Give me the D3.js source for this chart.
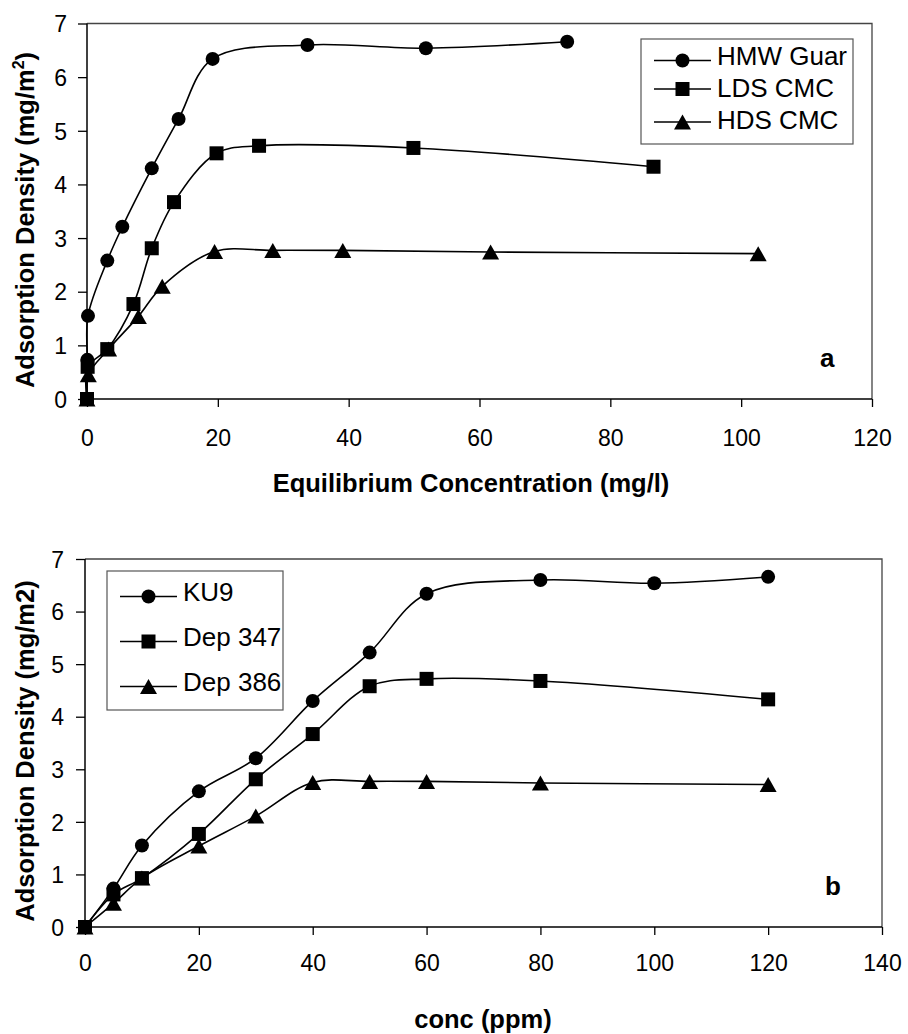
<!DOCTYPE html>
<html>
<head>
<meta charset="utf-8">
<script src="https://cdn.jsdelivr.net/npm/d3@7"></script>
<style>
  html, body { margin: 0; padding: 0; background: #fff; }
  svg { display: block; }
  text { font-family: "Liberation Sans", Arial, sans-serif; fill: #000; }
</style>
</head>
<body>
<svg id="chart" width="908" height="1034"></svg>
<script>
// ---------- DATA ----------
// Panel a: adsorption density vs equilibrium concentration (mg/l)
const guarX = [0, 0.05, 0.15, 3.1, 5.4, 9.9, 14.0, 19.2, 33.7, 51.8, 73.4];
const guarY = [0, 0.73, 1.55, 2.58, 3.21, 4.30, 5.22, 6.34, 6.60, 6.54, 6.66];
const ldsX  = [0, 0.1, 3.1, 7.1, 9.9, 13.3, 19.8, 26.3, 49.9, 86.6];
const ldsY  = [0, 0.60, 0.93, 1.77, 2.81, 3.67, 4.58, 4.72, 4.68, 4.33];
const hdsX  = [0, 0.2, 3.3, 7.85, 11.5, 19.5, 28.4, 39.1, 61.7, 102.6];
const hdsY  = [0, 0.45, 0.93, 1.54, 2.10, 2.75, 2.77, 2.77, 2.74, 2.71];
const seriesNamesA = ["HMW Guar", "LDS CMC", "HDS CMC"];
const xTicksA = [0, 20, 40, 60, 80, 100, 120];

// Panel b: adsorption density vs conc (ppm)
const ku9X    = [0, 5, 10, 20, 30, 40, 50, 60, 80, 100, 120];
const ku9Y    = [0, 0.73, 1.55, 2.58, 3.21, 4.30, 5.22, 6.34, 6.60, 6.54, 6.66];
const dep347X = [0, 5, 10, 20, 30, 40, 50, 60, 80, 120];
const dep347Y = [0, 0.62, 0.93, 1.77, 2.81, 3.67, 4.58, 4.72, 4.68, 4.33];
const dep386X = [0, 5, 10, 20, 30, 40, 50, 60, 80, 120];
const dep386Y = [0, 0.45, 0.93, 1.54, 2.11, 2.75, 2.77, 2.77, 2.74, 2.71];
const seriesNamesB = ["KU9", "Dep 347", "Dep 386"];
const xTicksB = [0, 20, 40, 60, 80, 100, 120, 140];

const yTicks = [0, 1, 2, 3, 4, 5, 6, 7];

// ---------- DRAWING ----------
const svg = d3.select("#chart");
svg.append("rect").attr("width", 908).attr("height", 1034).attr("fill", "#fff");

function marker(g, shape, cx, cy) {
  if (shape === "circle") {
    g.append("circle").attr("cx", cx).attr("cy", cy).attr("r", 7).attr("fill", "#000");
  } else if (shape === "square") {
    g.append("rect").attr("x", cx - 7).attr("y", cy - 7).attr("width", 14).attr("height", 14).attr("fill", "#000");
  } else {
    const w = 17, h = 15;
    g.append("path")
      .attr("d", `M${cx},${cy - h / 2}L${cx + w / 2},${cy + h / 2}L${cx - w / 2},${cy + h / 2}Z`)
      .attr("fill", "#000");
  }
}

function panel(cfg) {
  const g = svg.append("g");
  const x = d3.scaleLinear().domain(cfg.xDomain).range([cfg.left, cfg.right]);
  const y = d3.scaleLinear().domain([0, 7]).range([cfg.bottom, cfg.top]);

  // plot area border (top / right)
  g.append("path")
    .attr("d", `M${cfg.left},${cfg.top}H${cfg.right}V${cfg.bottom}`)
    .attr("fill", "none").attr("stroke", "#444").attr("stroke-width", 1.3);

  // y axis
  const ya = g.append("g").attr("transform", `translate(${cfg.left},0)`)
    .call(d3.axisLeft(y).tickValues(yTicks).tickSize(9).tickPadding(cfg.yPad).tickFormat(d3.format("d")));
  ya.selectAll(".tick line").attr("stroke", "#000").attr("stroke-width", 1.3);
  ya.selectAll(".tick text").attr("font-size", 23).attr("font-family", "Liberation Sans, Arial, sans-serif").attr("dy", "0.36em");

  // x axis
  const xa = g.append("g").attr("transform", `translate(0,${cfg.bottom})`)
    .call(d3.axisBottom(x).tickValues(cfg.xTicks).tickSize(8).tickPadding(cfg.xPad).tickFormat(d3.format("d")));
  xa.selectAll(".tick line").attr("stroke", "#000").attr("stroke-width", 1.3);
  xa.selectAll(".tick text").attr("font-size", 23).attr("font-family", "Liberation Sans, Arial, sans-serif");
  ya.select(".domain").attr("stroke", "#000").attr("stroke-width", 1.5).attr("d", `M0,${cfg.bottom}V${cfg.top}`);
  xa.select(".domain").attr("stroke", "#000").attr("stroke-width", 1.5).attr("d", `M${cfg.left},0H${cfg.right}`);

  // lines
  const line = d3.line().x(d => x(d[0])).y(d => y(d[1])).curve(d3.curveCatmullRom.alpha(0.5));
  cfg.series.forEach(s => {
    const pts = s.xs.map((v, i) => [v, s.ys[i]]);
    g.append("path").attr("d", line(pts)).attr("fill", "none").attr("stroke", "#000").attr("stroke-width", 1.6);
  });
  cfg.series.slice().reverse().forEach(s => {
    s.xs.forEach((v, i) => marker(g, s.shape, x(v), y(s.ys[i])));
  });

  // legend
  const L = cfg.legend;
  g.append("rect").attr("x", L.x).attr("y", L.y).attr("width", L.w).attr("height", L.h)
    .attr("fill", "#fff").attr("stroke", "#555").attr("stroke-width", 1.2);
  cfg.series.forEach((s, i) => {
    const my = L.rows[i];
    g.append("line").attr("x1", L.lx1).attr("x2", L.lx2).attr("y1", my).attr("y2", my)
      .attr("stroke", "#000").attr("stroke-width", 1.6);
    marker(g, s.shape, (L.lx1 + L.lx2) / 2, my);
    g.append("text").attr("x", L.tx).attr("y", L.base[i]).attr("font-size", 26).text(s.name);
  });

  // panel letter
  g.append("text").attr("x", cfg.letter[0]).attr("y", cfg.letter[1]).attr("font-size", 26)
    .attr("font-weight", "bold").text(cfg.letter[2]);

  // x title
  g.append("text").attr("x", cfg.xTitlePos[0]).attr("y", cfg.xTitlePos[1]).attr("text-anchor", "middle")
    .attr("font-size", 25.5).attr("font-weight", "bold").text(cfg.xTitle);

  // y title
  const yt = g.append("text").attr("transform", `translate(${cfg.yTitlePos[0]},${cfg.yTitlePos[1]}) rotate(-90)`)
    .attr("text-anchor", "middle").attr("font-size", 25.5).attr("font-weight", "bold");
  cfg.yTitle(yt);
}

panel({
  left: 87, right: 872, top: 23.5, bottom: 399,
  xDomain: [0, 120], xTicks: xTicksA, xPad: 23, yPad: 11,
  series: [
    { name: seriesNamesA[0], xs: guarX, ys: guarY, shape: "circle" },
    { name: seriesNamesA[1], xs: ldsX, ys: ldsY, shape: "square" },
    { name: seriesNamesA[2], xs: hdsX, ys: hdsY, shape: "triangle" }
  ],
  legend: { x: 641, y: 39, w: 212, h: 105, lx1: 654, lx2: 711, tx: 717,
            rows: [60.5, 89, 122], base: [65, 97, 129] },
  letter: [820, 367, "a"],
  xTitle: "Equilibrium Concentration (mg/l)", xTitlePos: [471, 492],
  yTitlePos: [34, 220],
  yTitle: t => {
    t.append("tspan").text("Adsorption Density (mg/m");
    t.append("tspan").attr("font-size", 16).attr("dy", -10).text("2");
    t.append("tspan").attr("dy", 10).text(")");
  }
});

panel({
  left: 85, right: 882, top: 559, bottom: 927,
  xDomain: [0, 140], xTicks: xTicksB, xPad: 20, yPad: 12,
  series: [
    { name: seriesNamesB[0], xs: ku9X, ys: ku9Y, shape: "circle" },
    { name: seriesNamesB[1], xs: dep347X, ys: dep347Y, shape: "square" },
    { name: seriesNamesB[2], xs: dep386X, ys: dep386Y, shape: "triangle" }
  ],
  legend: { x: 107, y: 571, w: 176, h: 139, lx1: 120, lx2: 177, tx: 183,
            rows: [596.5, 641.5, 686.5], base: [601, 646, 691] },
  letter: [825, 895, "b"],
  xTitle: "conc (ppm)", xTitlePos: [483, 1028],
  yTitlePos: [34, 751],
  yTitle: t => { t.text("Adsorption Density (mg/m2)"); }
});
</script>
</body>
</html>
